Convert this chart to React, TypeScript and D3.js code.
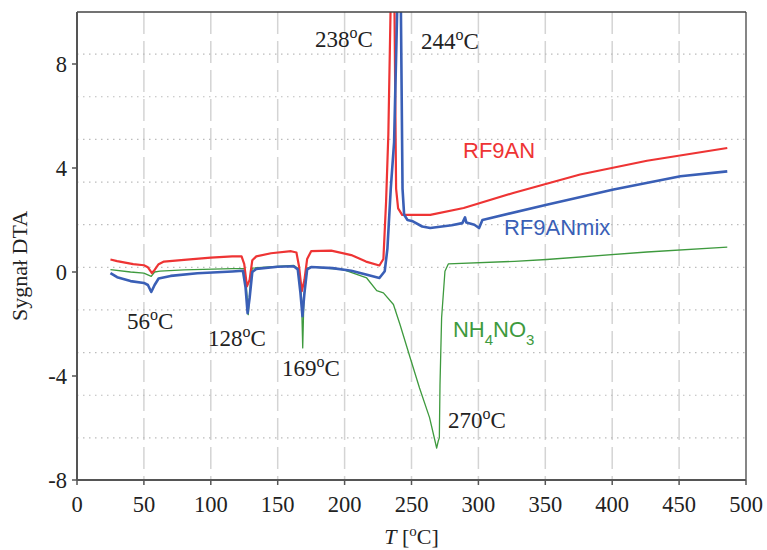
import React from 'react';
import * as d3 from 'd3';

// DTA curves, [T in °C, signal]
const rf9an: [number, number][] = [
  [25, 0.48], [30, 0.42], [42, 0.3], [50, 0.26], [53, 0.18], [56, -0.04], [58, 0.08], [61, 0.3],
  [65, 0.4], [80, 0.47], [100, 0.55], [116, 0.6], [123, 0.6], [125, 0.3], [127, -0.55], [129, -0.3],
  [131, 0.45], [134, 0.6], [145, 0.72], [160, 0.8], [164, 0.75], [166, 0.2], [168, -0.74], [170, -0.3],
  [172, 0.5], [175, 0.8], [190, 0.82], [205, 0.65], [216, 0.4], [226, 0.25], [229, 0.5], [231, 2.7],
  [232.7, 5.3], [234.5, 10.5], [236, 14], [237.2, 10.5], [238.5, 3.2], [240, 2.45], [243, 2.2],
  [264, 2.2], [289, 2.46], [326, 3.04], [376, 3.75], [426, 4.28], [486, 4.77],
];

const rf9anMix: [number, number][] = [
  [25, -0.04], [30, -0.2], [40, -0.35], [50, -0.42], [53, -0.5], [55.5, -0.77], [58, -0.5], [61, -0.25],
  [70, -0.15], [90, -0.05], [116, 0.02], [124, 0.05], [126, -0.6], [127.5, -1.58], [129, -1.0], [131, 0.0],
  [134, 0.12], [150, 0.2], [162, 0.22], [165, 0.1], [167, -0.8], [168.5, -1.7], [170, -0.8], [172, 0.1],
  [175, 0.19], [191, 0.15], [205, 0.05], [216, -0.1], [226, -0.23], [230, 0.03], [232, 0.9], [234.5, 3.2],
  [237, 5], [239.5, 10.5], [240.7, 14], [242, 10.5], [243.3, 3.2], [244.5, 2.2], [247, 2.0], [251, 1.95],
  [258, 1.75], [264, 1.69], [280, 1.8], [288, 1.88], [290, 2.1], [291, 1.9], [297, 1.82], [300.5, 1.69],
  [303, 2.0], [351, 2.59], [401, 3.17], [451, 3.68], [486, 3.87],
];

const nh4no3: [number, number][] = [
  [25, 0.09], [40, 0.0], [50, -0.04], [55.5, -0.17], [58, 0.0], [62, 0.03], [80, 0.08], [116, 0.13],
  [125, 0.13], [126.5, -0.5], [128, -1.64], [129.5, -0.5], [131, 0.15], [150, 0.22], [162, 0.25],
  [166, 0.1], [167.8, -1.0], [168.7, -2.92], [169.6, -1.0], [172, 0.15], [175, 0.2], [199, 0.09],
  [216.5, -0.23], [224, -0.72], [229, -0.8], [236.5, -1.25], [241.4, -2.02], [249, -3.3], [256, -4.46],
  [263.5, -5.6], [268.8, -6.77], [270, -6.5], [270.8, -6.38], [271.3, -4.33], [272.5, -1.77], [275, 0.03],
  [277.5, 0.31], [327, 0.41], [351, 0.48], [426, 0.77], [486, 0.96],
];

const xTicks = [0, 50, 100, 150, 200, 250, 300, 350, 400, 450, 500];
const yTicks = [-8, -4, 0, 4, 8];
// instrument grid (does not line up with the relabelled y axis)
const gridY = [8.38, 6.74, 5.1, 3.46, 1.82, 0.18, -1.46, -3.1, -4.74, -6.38];
const gridX = [50, 100, 150, 200, 250, 300, 350, 400, 450];

// peak temperatures: [label, T, signal]
const peaks: [string, number, number][] = [
  ['238', 177.9, 8.65], ['244', 257.1, 8.58], ['56', 37.4, -2.19],
  ['128', 97.9, -2.85], ['169', 153.2, -4.0], ['270', 277.3, -6.0],
];

const W = 767, H = 550;
const margin = { top: 12, right: 21, bottom: 70, left: 77 };

export default function App() {
  const x = d3.scaleLinear().domain([0, 500]).range([margin.left, W - margin.right]);
  const y = d3.scaleLinear().domain([-8, 10]).range([H - margin.bottom, margin.top]);
  const line = d3.line<[number, number]>().x(d => x(d[0])).y(d => y(d[1]));

  const x0 = x(0), x1 = x(500), yb = y(-8), yt = y(10);
  const serif = '"Liberation Serif", "DejaVu Serif", serif';
  const sans = '"Liberation Sans", Arial, sans-serif';

  return (
    <svg width={W} height={H} style={{ position: 'absolute', left: 0, top: 0, background: '#fff' }}>
      <defs>
        <clipPath id="plot">
          <rect x={x0} y={yt} width={x1 - x0} height={yb - yt} />
        </clipPath>
      </defs>

      {/* grid */}
      {gridX.map(t => (
        <line key={'gx' + t} x1={x(t)} x2={x(t)} y1={yt} y2={yb}
          stroke="#d4d4d4" strokeWidth={1.5} strokeDasharray="22,7" />
      ))}
      {gridY.map(v => (
        <line key={'gy' + v} x1={x0} x2={x1} y1={y(v)} y2={y(v)}
          stroke="#bcbcbc" strokeWidth={1.2} strokeDasharray="1.5,4.5" />
      ))}

      {/* curves */}
      <g clipPath="url(#plot)" fill="none" strokeLinejoin="round">
        <path d={line(nh4no3) || ''} stroke="#3e9a3e" strokeWidth={1.3} />
        <path d={line(rf9an) || ''} stroke="#ee3434" strokeWidth={2.2} />
        <path d={line(rf9anMix) || ''} stroke="#3a5fb6" strokeWidth={2.6} />
      </g>

      {/* frame */}
      <line x1={x0} x2={x1} y1={yt} y2={yt} stroke="#444" strokeWidth={1.3} />
      <line x1={x1} x2={x1} y1={yt} y2={yb} stroke="#444" strokeWidth={1.3} />
      <line x1={x0} x2={x0} y1={yt} y2={yb} stroke="#555" strokeWidth={2} />
      <line x1={x0} x2={x1} y1={yb} y2={yb} stroke="#555" strokeWidth={2} />

      {/* x axis */}
      {xTicks.map(t => (
        <g key={'xt' + t}>
          <line x1={x(t)} x2={x(t)} y1={yb} y2={yb + 5} stroke="#555" strokeWidth={1.5} />
          <text x={x(t)} y={yb + 32} textAnchor="middle" fontFamily={serif} fontSize={22.5} fill="#222">{t}</text>
        </g>
      ))}
      {/* y axis */}
      {yTicks.map(v => (
        <g key={'yt' + v}>
          <line x1={x0 - 5} x2={x0} y1={y(v)} y2={y(v)} stroke="#555" strokeWidth={1.5} />
          <text x={x0 - 10} y={y(v)} dy="0.35em" textAnchor="end" fontFamily={serif} fontSize={22.5} fill="#222">{v}</text>
        </g>
      ))}

      <text transform={`translate(27,${(yt + yb) / 2 + 20}) rotate(-90)`} textAnchor="middle"
        fontFamily={serif} fontSize={22} fill="#222">Sygnał DTA</text>
      <text x={(x0 + x1) / 2} y={H - 6} textAnchor="middle" fontFamily={serif} fontSize={22} fill="#222">
        <tspan fontStyle="italic">T</tspan> [<tspan fontSize={15} dy={-8}>o</tspan><tspan dy={8}>C]</tspan>
      </text>

      {/* peak labels */}
      {peaks.map(([lab, t, v]) => (
        <text key={lab} x={x(t)} y={y(v)} fontFamily={serif} fontSize={23} fill="#222">
          {lab}<tspan fontSize={16} dy={-9}>o</tspan><tspan dy={9}>C</tspan>
        </text>
      ))}

      {/* series labels */}
      <text x={x(288.5)} y={y(4.38)} fontFamily={sans} fontSize={22} fill="#ee3434">RF9AN</text>
      <text x={x(319.1)} y={y(1.42)} fontFamily={sans} fontSize={22} fill="#3a5fb6">RF9ANmix</text>
      <text x={x(281)} y={y(-2.5)} fontFamily={sans} fontSize={22} fill="#3e9a3e">
        NH<tspan fontSize={15} dy={8}>4</tspan><tspan dy={-8}>NO</tspan><tspan fontSize={15} dy={8}>3</tspan>
      </text>
    </svg>
  );
}
